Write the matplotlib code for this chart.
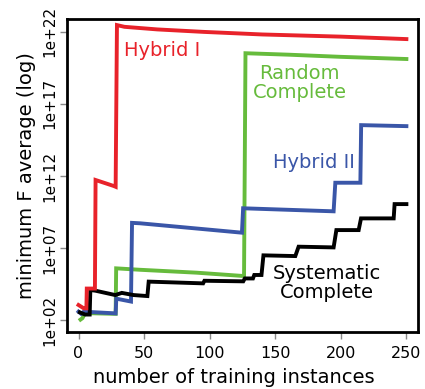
import numpy as np
import matplotlib
matplotlib.use("Agg")
import matplotlib.pyplot as plt

# ---- data (x = number of training instances, values = log10 of minimum F average)
hyb1_x = [0, 4, 6, 6.3, 12.5, 13, 27, 28.3, 29.3, 35, 60, 95, 140, 200, 250]
hyb1_log = [3.06, 2.83, 2.83, 4.2, 4.2, 11.72, 11.3, 11.25, 22.45, 22.33, 22.15, 21.98, 21.8, 21.65, 21.48]

rand_x = [1.5, 3, 5, 27.5, 28.3, 28.7, 47, 90, 125.6, 126.2, 127.3, 160, 200, 250]
rand_log = [2.05, 2.15, 2.5, 2.45, 2.45, 5.6, 5.5, 5.3, 5.07, 5.07, 20.5, 20.4, 20.25, 20.1]

hyb2_x = [0, 2, 4, 28.3, 28.8, 40, 40.8, 47, 124.6, 125.5, 194.5, 195.8, 214.9, 215.5, 250]
hyb2_log = [2.6, 2.45, 2.6, 2.48, 3.5, 3.3, 8.75, 8.72, 8.07, 9.76, 9.55, 11.53, 11.53, 15.52, 15.45]

sys_x = [1, 5, 8.5, 9, 13, 28, 33, 36, 42, 52.5, 53.5, 95, 96, 125.6, 126.8, 133,
         134, 139.5, 141, 165.3, 167.8, 194.5, 196.6, 213.6, 215.4, 240.3, 241, 250]
sys_log = [2.55, 2.4, 2.4, 4.1, 4.05, 3.75, 3.9, 3.85, 3.75, 3.68, 4.68, 4.56, 4.74, 4.7, 4.9, 4.9,
           5.14, 5.14, 6.5, 6.45, 7.1, 7.05, 8.25, 8.25, 9.06, 9.06, 10.05, 10.05]

xticks = [0, 50, 100, 150, 200, 250]
ytick_exp = [2, 7, 12, 17, 22]
ytick_labels = ["1e+02", "1e+07", "1e+12", "1e+17", "1e+22"]

RED = "#E8222A"
GREEN = "#66BB3C"
BLUE = "#3A56A8"
BLACK = "#000000"

fig = plt.figure(figsize=(4.25, 3.89), dpi=100)
ax = fig.add_axes([0.157, 0.1465, 0.827, 0.8035])

lw = 2.8
ax.plot(rand_x, 10.0 ** np.array(rand_log), color=GREEN, lw=lw, solid_joinstyle="miter")
ax.plot(hyb2_x, 10.0 ** np.array(hyb2_log), color=BLUE, lw=lw, solid_joinstyle="miter")
ax.plot(sys_x, 10.0 ** np.array(sys_log), color=BLACK, lw=lw, solid_joinstyle="miter")
ax.plot(hyb1_x, 10.0 ** np.array(hyb1_log), color=RED, lw=lw, solid_joinstyle="miter")

ax.set_yscale("log")
ax.set_xlim(-9, 259)
ax.set_ylim(10 ** 1.19, 10 ** 22.84)
ax.minorticks_off()
ax.set_xticks(xticks)
ax.set_xticklabels([str(v) for v in xticks], fontsize=11.5)
ax.set_yticks([10.0 ** e for e in ytick_exp])
ax.set_yticklabels(ytick_labels, fontsize=11, rotation=90, va="center")
ax.tick_params(axis="x", length=5, width=1, color="#888888", pad=5)
ax.tick_params(axis="y", length=5, width=1, color="#888888", pad=2)

for s in ax.spines.values():
    s.set_linewidth(2.0)
    s.set_color("black")

ax.set_xlabel("number of training instances", fontsize=14)
ax.set_ylabel("minimum F average (log)", fontsize=14)
ax.xaxis.set_label_coords(0.474, -0.115)
ax.yaxis.set_label_coords(-0.088, 0.5)

fs = 14
ax.text(34.9, 10 ** 20.72, "Hybrid I", color=RED, fontsize=fs, ha="left", va="center")
ax.text(168.4, 10 ** 18.41, "Random\nComplete", color=GREEN, fontsize=fs,
        ha="center", va="center", multialignment="center", linespacing=1.0)
ax.text(179.3, 10 ** 12.94, "Hybrid II", color=BLUE, fontsize=fs, ha="center", va="center")
ax.text(189.2, 10 ** 4.56, "Systematic\nComplete", color=BLACK, fontsize=fs,
        ha="center", va="center", multialignment="center", linespacing=1.0)

fig.savefig("out.png", dpi=100)
